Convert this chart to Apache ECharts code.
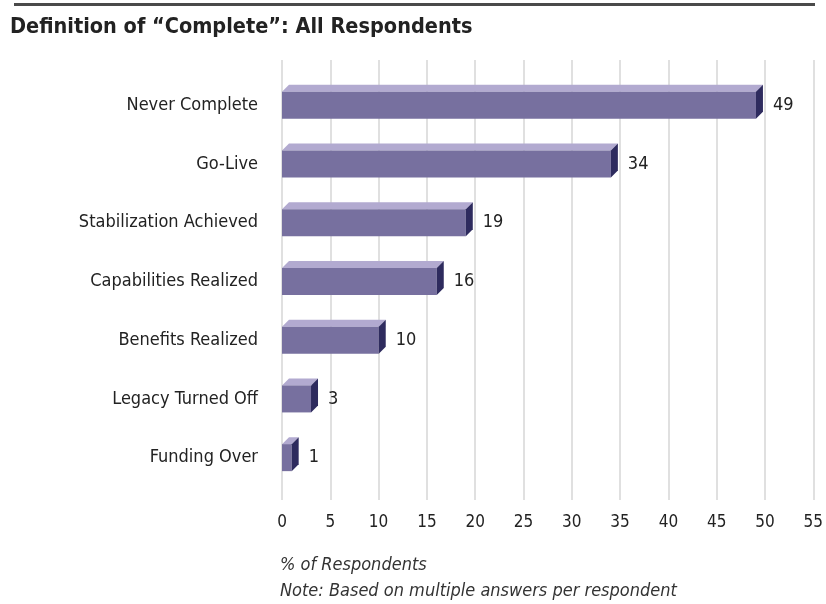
<!DOCTYPE html>
<html>
<head>
<meta charset="utf-8">
<script src="https://cdn.jsdelivr.net/npm/echarts@6/dist/echarts.min.js"></script>
<style>
html,body{margin:0;padding:0;background:#fff;}
#c{width:826px;height:604px;}
</style>
</head>
<body>
<div id="c"></div>
<script>
const categories = ["Never Complete","Go-Live","Stabilization Achieved","Capabilities Realized","Benefits Realized","Legacy Turned Off","Funding Over"];
const values = [49, 34, 19, 16, 10, 3, 1];
const xTicks = [0,5,10,15,20,25,30,35,40,45,50,55];

const FONT = '"Liberation Sans Narrow", "DejaVu Sans Condensed", "Open Sans", sans-serif';
const chart = echarts.init(document.getElementById('c'));

const DEPTH = 7, FACE = 27;
function renderItem(params, api) {
  const v = api.value(0), idx = api.value(1);
  const p0 = api.coord([0, idx]);
  const p1 = api.coord([v, idx]);
  const x0 = p0[0], x1 = p1[0], cy = p0[1];
  const top = cy - FACE / 2, bot = cy + FACE / 2;
  return {
    type: 'group',
    children: [
      { type: 'polygon', shape: { points: [[x0, top], [x0 + DEPTH, top - DEPTH], [x1 + DEPTH, top - DEPTH], [x1, top]] },
        style: { fill: '#b2aad0' } },
      { type: 'rect', shape: { x: x0, y: top, width: x1 - x0, height: FACE },
        style: { fill: '#77709f' } },
      { type: 'polygon', shape: { points: [[x1, top], [x1 + DEPTH, top - DEPTH], [x1 + DEPTH, bot - DEPTH], [x1, bot]] },
        style: { fill: '#2e2b5e' } },
      { type: 'text', x: x1 + DEPTH + 10, y: cy,
        style: { text: String(v), fill: '#222', font: '18px ' + FONT, verticalAlign: 'middle', align: 'left' } }
    ]
  };
}

chart.setOption({
  animation: false,
  backgroundColor: '#fff',
  graphic: [
    { type: 'rect', shape: { x: 14, y: 3, width: 801, height: 3 }, style: { fill: '#4a4a4a' } },
    { type: 'text', left: 10, top: 16, style: { text: 'Definition of \u201cComplete\u201d: All Respondents', font: 'bold 21.5px ' + FONT, fill: '#222' } },
    { type: 'text', left: 280, top: 556, style: { text: '% of Respondents', font: 'italic 18px ' + FONT, fill: '#333' } },
    { type: 'text', left: 280, top: 582, style: { text: 'Note: Based on multiple answers per respondent', font: 'italic 18px ' + FONT, fill: '#333' } }
  ],
  grid: [
    { left: 282, right: 12, top: 60, bottom: 104 },
    { left: 282, right: 12, top: 76, bottom: 117 }
  ],
  xAxis: [
    { gridIndex: 0, type: 'value', min: xTicks[0], max: xTicks[xTicks.length - 1], interval: 5,
      axisLine: { show: false }, axisTick: { show: false },
      splitLine: { show: true, lineStyle: { color: '#e0e0e0', width: 2 } },
      axisLabel: { fontSize: 17, fontFamily: FONT, color: '#222', margin: 14 } },
    { gridIndex: 1, type: 'value', min: xTicks[0], max: xTicks[xTicks.length - 1], show: false }
  ],
  yAxis: [
    { gridIndex: 0, type: 'value', show: false },
    { gridIndex: 1, type: 'category', data: categories, inverse: true,
      axisLine: { show: false }, axisTick: { show: false },
      axisLabel: { fontSize: 18, fontFamily: FONT, color: '#222', margin: 24 } }
  ],
  series: [{
    type: 'custom',
    xAxisIndex: 1, yAxisIndex: 1,
    renderItem: renderItem,
    encode: { x: 0, y: 1 },
    data: values.map((v, i) => [v, i])
  }]
});
</script>
</body>
</html>
